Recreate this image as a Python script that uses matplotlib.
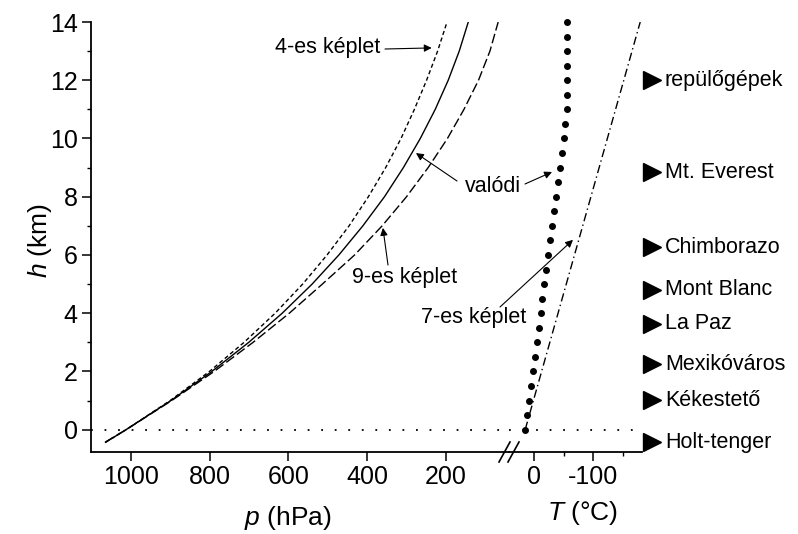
import matplotlib
matplotlib.use('Agg')
import matplotlib.pyplot as plt
from matplotlib.transforms import blended_transform_factory
from matplotlib.lines import Line2D

plt.rcParams['font.family'] = ['Liberation Sans', 'DejaVu Sans']
plt.rcParams['mathtext.fontset'] = 'custom'
plt.rcParams['mathtext.it'] = 'Liberation Sans:italic'
plt.rcParams['mathtext.rm'] = 'Liberation Sans'
plt.rcParams['axes.unicode_minus'] = False

# ---------------- data ----------------
h_p = [-0.43, 0, 1, 2, 3, 4, 5, 6, 7, 8, 9, 10, 11, 12, 13, 14]          # km
p_valodi = [1065, 1013, 899, 795, 701, 616, 540, 472, 411, 356, 308, 265, 227, 194, 166, 143]
p_4es = [1065, 1013, 901, 801, 713, 634, 564, 502, 446, 397, 353, 314, 280, 249, 221, 197]
p_9es = [1066, 1013, 897, 789, 690, 598, 514, 432, 362, 300, 245, 196, 154, 117, 88, 67]

h_dots = [0, 0.5, 1, 1.5, 2, 2.5, 3, 3.5, 4, 4.5, 5, 5.5, 6, 6.5, 7, 7.5, 8, 8.5,
          9, 9.5, 10, 10.5, 11, 11.5, 12, 12.5, 13, 13.5, 14]
T_valodi = [15, 11.8, 8.5, 5.3, 2, -1.3, -4.5, -7.8, -11, -14.3, -17.5, -20.8, -24,
            -27.3, -30.5, -33.8, -37, -40.3, -43.5, -46.8, -50, -53.3, -56.5,
            -56.5, -56.5, -56.5, -56.5, -56.5, -56.5]

h_7es = [0, 14]
T_7es = [15, -180]

site_names = ['repülőgépek', 'Mt. Everest', 'Chimborazo', 'Mont Blanc', 'La Paz',
              'Mexikóváros', 'Kékestető', 'Holt-tenger']
site_h = [12.0, 8.848, 6.263, 4.808, 3.64, 2.24, 1.014, -0.43]

p_ticks = [1000, 800, 600, 400, 200]
T_ticks = [0, -100]
T_minor = [-50, -150]
h_ticks = [0, 2, 4, 6, 8, 10, 12, 14]
h_minor = [1, 3, 5, 7, 9, 11, 13]

# ---------------- figure ----------------
W, H = 798, 534
fig = plt.figure(figsize=(W / 100, H / 100), dpi=100)


def fx(x):
    return x / W


def fy(y):
    return (H - y) / H


axL = fig.add_axes([fx(91), fy(452), 418 / W, 430 / H])
axR = fig.add_axes([fx(509), fy(452), 133 / W, 430 / H], sharey=axL)
for ax in (axL, axR):
    ax.set_facecolor('none')

axL.set_xlim(1102, 39.5)
axL.set_ylim(-0.765, 14.0)
axR.set_xlim(42.4, -183)

lw = 1.0
axL.plot(p_4es, h_p, color='k', lw=lw, ls=(0, (3, 2)))
axL.plot(p_valodi, h_p, color='k', lw=lw)
axL.plot(p_9es, h_p, color='k', lw=lw, ls=(0, (7, 2.5)))
axR.plot(T_7es, h_7es, color='k', lw=lw, ls=(0, (6, 2.5, 1, 2.5)))
axR.plot(T_valodi, h_dots, ls='none', marker='o', ms=4, color='k', clip_on=False)

for ax in (axL, axR):
    ax.axhline(0, color='k', lw=1.3, ls=(0, (1, 6.5)))

# spines & ticks
for s in ('top', 'right'):
    axL.spines[s].set_visible(False)
for s in ('top', 'right', 'left'):
    axR.spines[s].set_visible(False)
for ax in (axL, axR):
    ax.spines['bottom'].set_linewidth(1.3)
axL.spines['left'].set_linewidth(1.3)

axL.set_xticks(p_ticks)
axL.set_xticklabels([str(v) for v in p_ticks])
axL.set_yticks(h_ticks)
axL.set_yticklabels([str(v) for v in h_ticks])
axL.set_yticks(h_minor, minor=True)
axR.set_xticks(T_ticks)
axR.set_xticklabels([str(v) for v in T_ticks])
axR.set_xticks(T_minor, minor=True)

for ax in (axL, axR):
    ax.tick_params(which='major', direction='out', length=6.5, width=1.1, labelsize=18, pad=3)
    ax.tick_params(which='minor', direction='out', length=3, width=1.0)
axR.tick_params(axis='y', which='both', left=False, labelleft=False)

axL.set_xlabel('$p$ (hPa)', fontsize=19, va='center')
axL.xaxis.set_label_coords((288 - 91) / 418, (452 - 518) / 430)
axR.set_xlabel('$T$ (°C)', fontsize=19, va='center')
axR.xaxis.set_label_coords((583 - 509) / 133, (452 - 513) / 430)
axL.set_ylabel('$h$ (km)', fontsize=19, va='center')
axL.yaxis.set_label_coords((40 - 91) / 418, (452 - 240) / 430)

# axis break slashes
for x0 in (499, 508):
    fig.add_artist(Line2D([fx(x0), fx(x0 + 11)], [fy(462), fy(442)], color='k', lw=1.2))

# site markers
trans = blended_transform_factory(axR.transAxes, axR.transData)
axR.plot([(652 - 509) / 133] * len(site_h), site_h, ls='none', marker='>', ms=13,
         color='k', transform=trans, clip_on=False)
for name, hh in zip(site_names, site_h):
    axR.text((665 - 509) / 133, hh, name, transform=trans, fontsize=15.5,
             ha='left', va='center')

# annotations
ap = dict(arrowstyle='-|>', color='k', lw=0.8, shrinkA=0, shrinkB=0, mutation_scale=11)
axL.annotate('', xy=(236, 13.11), xytext=(385, H - 49), textcoords='figure pixels', arrowprops=ap)
axL.annotate('', xy=(276, 9.5), xytext=(457, H - 181), textcoords='figure pixels', arrowprops=ap)
axR.annotate('', xy=(-30.5, 8.85), xytext=(525, H - 184), textcoords='figure pixels', arrowprops=ap)
axL.annotate('', xy=(360, 6.93), xytext=(388, H - 265), textcoords='figure pixels', arrowprops=ap)
axR.annotate('', xy=(-66, 6.52), xytext=(500, H - 307), textcoords='figure pixels', arrowprops=ap)

fs = 15.5
fig.text(fx(380), fy(48), '4-es képlet', ha='right', va='center', fontsize=fs)
fig.text(fx(493), fy(187), 'valódi', ha='center', va='center', fontsize=fs)
fig.text(fx(405), fy(278), '9-es képlet', ha='center', va='center', fontsize=fs)
fig.text(fx(474), fy(317), '7-es képlet', ha='center', va='center', fontsize=fs)

fig.savefig('out.png', dpi=100)
